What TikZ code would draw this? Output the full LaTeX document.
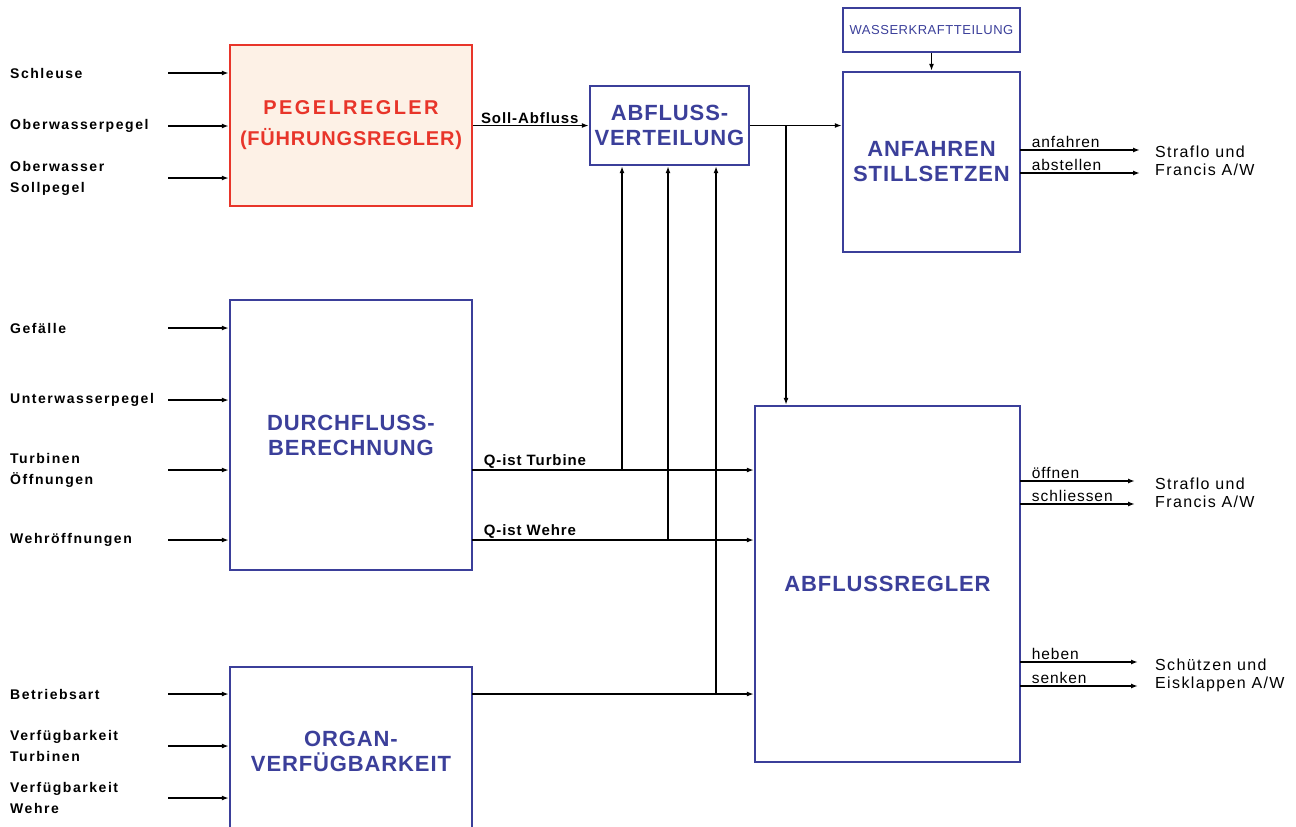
\documentclass[tikz,border=0pt]{standalone}
\usepackage{fontspec}
\setmainfont{Liberation Sans}
\newfontfamily\boxfont[LetterSpace=4]{Liberation Sans}
\newfontfamily\inputfont[LetterSpace=11]{Liberation Sans}
\newfontfamily\sigfont[LetterSpace=6]{Liberation Sans}
\newfontfamily\outfont[LetterSpace=8.5]{Liberation Sans}
\usetikzlibrary{arrows.meta, positioning}
\definecolor{boxblue}{HTML}{3B3F9A}
\definecolor{boxred}{HTML}{E8352A}
\definecolor{boxcream}{HTML}{FDF1E6}

\begin{document}
\begin{tikzpicture}[
    x=1pt, y=-1pt,
    box/.style={draw=boxblue, line width=2.4pt, align=center, text=boxblue,
        font=\boxfont\fontsize{22}{25}\selectfont\bfseries, inner sep=0pt},
    redbox/.style={box, draw=boxred, fill=boxcream, text=boxred},
    inlabel/.style={anchor=west, align=left, font=\inputfont\fontsize{14}{21}\selectfont\bfseries, inner sep=0pt},
    outlabel/.style={anchor=west, align=left, font=\outfont\fontsize{16}{18}\selectfont, inner sep=0pt},
    siglabel/.style={pos=0, anchor=south west, xshift=11pt, yshift=1pt, inner sep=0pt,
        font=\sigfont\fontsize{15.5}{16}\selectfont},
    arrow/.style={-{Latex[length=7pt, width=5pt]}, line width=1.8pt}
]
    \useasboundingbox (0,0) rectangle (1296,827);

    % blocks
    \node[redbox, minimum width=242pt, minimum height=161pt, font=\boxfont\fontsize{20}{31}\selectfont\bfseries] (pegel) at (351,125.5)
        {{\addfontfeature{LetterSpace=12}PEGELREGLER}\\(FÜHRUNGSREGLER)};
    \node[box, minimum width=159pt, minimum height=79pt] (vert) at (669.5,125.5) {ABFLUSS-\\VERTEILUNG};
    \node[box, minimum width=177pt, minimum height=44pt, font=\boxfont\fontsize{13}{15}\selectfont] (wkt) at (931.5,30) {WASSERKRAFTTEILUNG};
    \node[box, minimum width=177pt, minimum height=180pt] (anf) at (931.5,162) {ANFAHREN\\STILLSETZEN};
    \node[box, minimum width=242pt, minimum height=270pt] (durch) at (351,435) {DURCHFLUSS-\\BERECHNUNG};
    \node[box, minimum width=242pt, minimum height=168pt] (organ) at (351,751) {ORGAN-\\VERFÜGBARKEIT};
    \node[box, minimum width=265pt, minimum height=356pt] (regler) at (887.5,584) {ABFLUSSREGLER};

    % inputs
    \foreach \name/\ypos/\txt in {schl/73/Schleuse, ow/126/Oberwasserpegel, sp/178/{Oberwasser\\Sollpegel}} {
        \node[inlabel] (l-\name) at (10,\ypos) {\txt};
        \coordinate (c-\name) at (168,\ypos);
        \draw[arrow] (c-\name) -- (c-\name -| pegel.west);
    }
    \foreach \name/\ypos/\txt in {gef/328/Gefälle, uw/400/Unterwasserpegel, to/470/{Turbinen\\Öffnungen}, wo/540/Wehröffnungen} {
        \node[inlabel] (l-\name) at (10,\ypos) {\txt};
        \coordinate (c-\name) at (168,\ypos);
        \draw[arrow] (c-\name) -- (c-\name -| durch.west);
    }
    \foreach \name/\ypos/\txt in {ba/694/Betriebsart, vt/746/{Verfügbarkeit\\Turbinen}, vw/798/{Verfügbarkeit\\Wehre}} {
        \node[inlabel] (l-\name) at (10,\ypos) {\txt};
        \coordinate (c-\name) at (168,\ypos);
        \draw[arrow] (c-\name) -- (c-\name -| organ.west);
    }

    % internal signals
    \draw[arrow] (pegel.east) -- node[siglabel, xshift=-4pt, font=\sigfont\fontsize{15}{16}\selectfont\bfseries]{Soll-Abfluss} (vert.west);
    \draw[arrow] (wkt) -- (anf);
    \draw[arrow] (vert.east) -- (vert.east -| anf.west);
    \coordinate (split) at (786,125.5);
    \draw[arrow] (split) -- (split |- regler.north);

    \coordinate (qt) at (472,470);
    \coordinate (qw) at (472,540);
    \coordinate (ov) at (472,694);
    \draw[arrow] (qt) -- node[siglabel, font=\sigfont\fontsize{15}{16}\selectfont\bfseries]{Q-ist\ Turbine} (qt -| regler.west);
    \draw[arrow] (qw) -- node[siglabel, font=\sigfont\fontsize{15}{16}\selectfont\bfseries]{Q-ist\ Wehre} (qw -| regler.west);
    \draw[arrow] (ov) -- (ov -| regler.west);
    \draw[arrow] (622,470) -- (622,470 |- vert.south);
    \draw[arrow] (668,540) -- (668,540 |- vert.south);
    \draw[arrow] (716,694) -- (716,694 |- vert.south);

    % outputs
    \coordinate (anf1) at (1020,150);
    \coordinate (anf2) at (1020,173);
    \draw[arrow] (anf1) -- node[siglabel]{anfahren} ++(120,0);
    \draw[arrow] (anf2) -- node[siglabel]{abstellen} ++(120,0);
    \node[outlabel] (o-anf) at (1155,161) {Straflo und\\Francis A/W};

    \coordinate (reg1) at (1020,481);
    \coordinate (reg2) at (1020,504);
    \draw[arrow] (reg1) -- node[siglabel]{öffnen} ++(115,0);
    \draw[arrow] (reg2) -- node[siglabel]{schliessen} ++(115,0);
    \node[outlabel] (o-reg) at (1155,493) {Straflo und\\Francis A/W};

    \coordinate (reg3) at (1020,662);
    \coordinate (reg4) at (1020,686);
    \draw[arrow] (reg3) -- node[siglabel]{heben} ++(118,0);
    \draw[arrow] (reg4) -- node[siglabel]{senken} ++(118,0);
    \node[outlabel] (o-sch) at (1155,675) {Schützen und\\Eisklappen A/W};
\end{tikzpicture}
\end{document}
